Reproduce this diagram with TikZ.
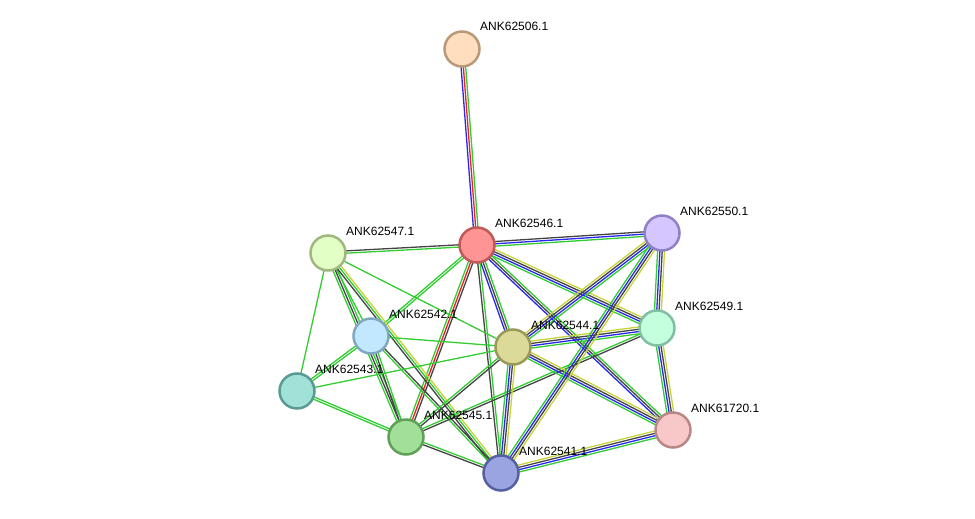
\documentclass[tikz,border=0pt]{standalone}
\usepackage{fontspec}
\setmainfont{Liberation Sans}
\usetikzlibrary{calc}
\pgfdeclarelayer{background}
\pgfsetlayers{background,main}
\definecolor{sgreen}{HTML}{33CC33}
\definecolor{sblue}{HTML}{2828F0}
\definecolor{sblack}{HTML}{444444}
\definecolor{syellow}{HTML}{C4D43A}
\definecolor{sred}{HTML}{F02020}
\tikzset{prot/.style={circle,line width=2.5pt,minimum size=35pt,inner sep=0pt},
  lbl/.style={anchor=base west,inner sep=0pt,font=\fontsize{12}{14}\selectfont}}
% one connector made of parallel coloured lines
\newcommand{\sedge}[3]{%
  \foreach \c [count=\n] in {#3}{\xdef\nlines{\n}}%
  \foreach \c [count=\i] in {#3}{%
    \pgfmathsetmacro\off{(\i-(\nlines+1)/2)*2.3}%
    \draw[color=\c,line width=1.3pt] ($(#1.center)!\off pt!90:(#2.center)$) -- ($(#2.center)!\off pt!-90:(#1.center)$);}}
\newcommand{\prot}[5]{% name, x, y, fill, border
  \definecolor{f#1}{HTML}{#4}\definecolor{d#1}{HTML}{#5}%
  \node[prot,fill=f#1,draw=d#1] (#1) at (#2,#3) {};
  \node[lbl] (l#1) at ($(#1)+(18,-18)$) {ANK#1.1};}
\begin{document}
\begin{tikzpicture}[x=1pt,y=-1pt]
\useasboundingbox (0,0) rectangle (975,519);
\prot{62506}{462}{49}{FFDEC0}{B99A78}
\prot{62546}{477}{245}{FF9494}{C05A5A}
\prot{62550}{662}{233}{D6C6FF}{9080C8}
\prot{62547}{328}{253}{E2FFC6}{A0B880}
\prot{62542}{371}{336}{C2E8FF}{80A8C0}
\prot{62544}{513}{347}{DCDA98}{9A9A58}
\prot{62549}{657}{328}{C4FFDE}{80C0A0}
\prot{62543}{297}{391}{A0E2D8}{5A9A92}
\prot{62545}{406}{437}{A2E09A}{60A058}
\prot{62541}{501}{473}{9AA4E0}{5560A0}
\prot{61720}{673}{430}{F8C8C8}{B88888}
\begin{pgfonlayer}{background}
\sedge{62506}{62546}{sblue,sred,sgreen}
\sedge{62546}{62547}{sblack,sgreen}
\sedge{62546}{62550}{sgreen,sblue,sblack}
\sedge{62546}{62549}{sgreen,sblue,sblack,syellow}
\sedge{62546}{61720}{sblue,sblack,sgreen}
\sedge{62546}{62544}{sblue,sblack,sgreen}
\sedge{62546}{62541}{sblack,sgreen}
\sedge{62546}{62545}{sgreen,sred,sblack}
\sedge{62546}{62542}{sgreen,sgreen}
\sedge{62547}{62542}{sgreen}
\sedge{62547}{62545}{sgreen,sblack,sgreen}
\sedge{62547}{62541}{sblack,sgreen,syellow}
\sedge{62547}{62543}{sgreen}
\sedge{62547}{62544}{sgreen}
\sedge{62542}{62544}{sgreen}
\sedge{62542}{62545}{sblack,sgreen}
\sedge{62542}{62541}{sgreen,sblack}
\sedge{62542}{62543}{sgreen,sgreen}
\sedge{62543}{62544}{sgreen}
\sedge{62543}{62545}{sgreen,sgreen}
\sedge{62545}{62544}{sblack,sgreen}
\sedge{62545}{62549}{sblack,sgreen}
\sedge{62545}{62541}{sblack,sgreen}
\sedge{62544}{62541}{sgreen,sblue,sblack,syellow}
\sedge{62544}{62549}{sgreen,sblue,sblack,syellow}
\sedge{62544}{62550}{sgreen,sblue,sblack,syellow}
\sedge{62544}{61720}{sgreen,sblue,sblack,syellow}
\sedge{62550}{62549}{sgreen,sblue,sblack,syellow}
\sedge{62550}{62541}{sgreen,sblue,sblack,syellow}
\sedge{62541}{61720}{sgreen,sblue,sblack,syellow}
\sedge{62549}{61720}{sgreen,sblue,sblack,syellow}
\end{pgfonlayer}
\end{tikzpicture}
\end{document}
